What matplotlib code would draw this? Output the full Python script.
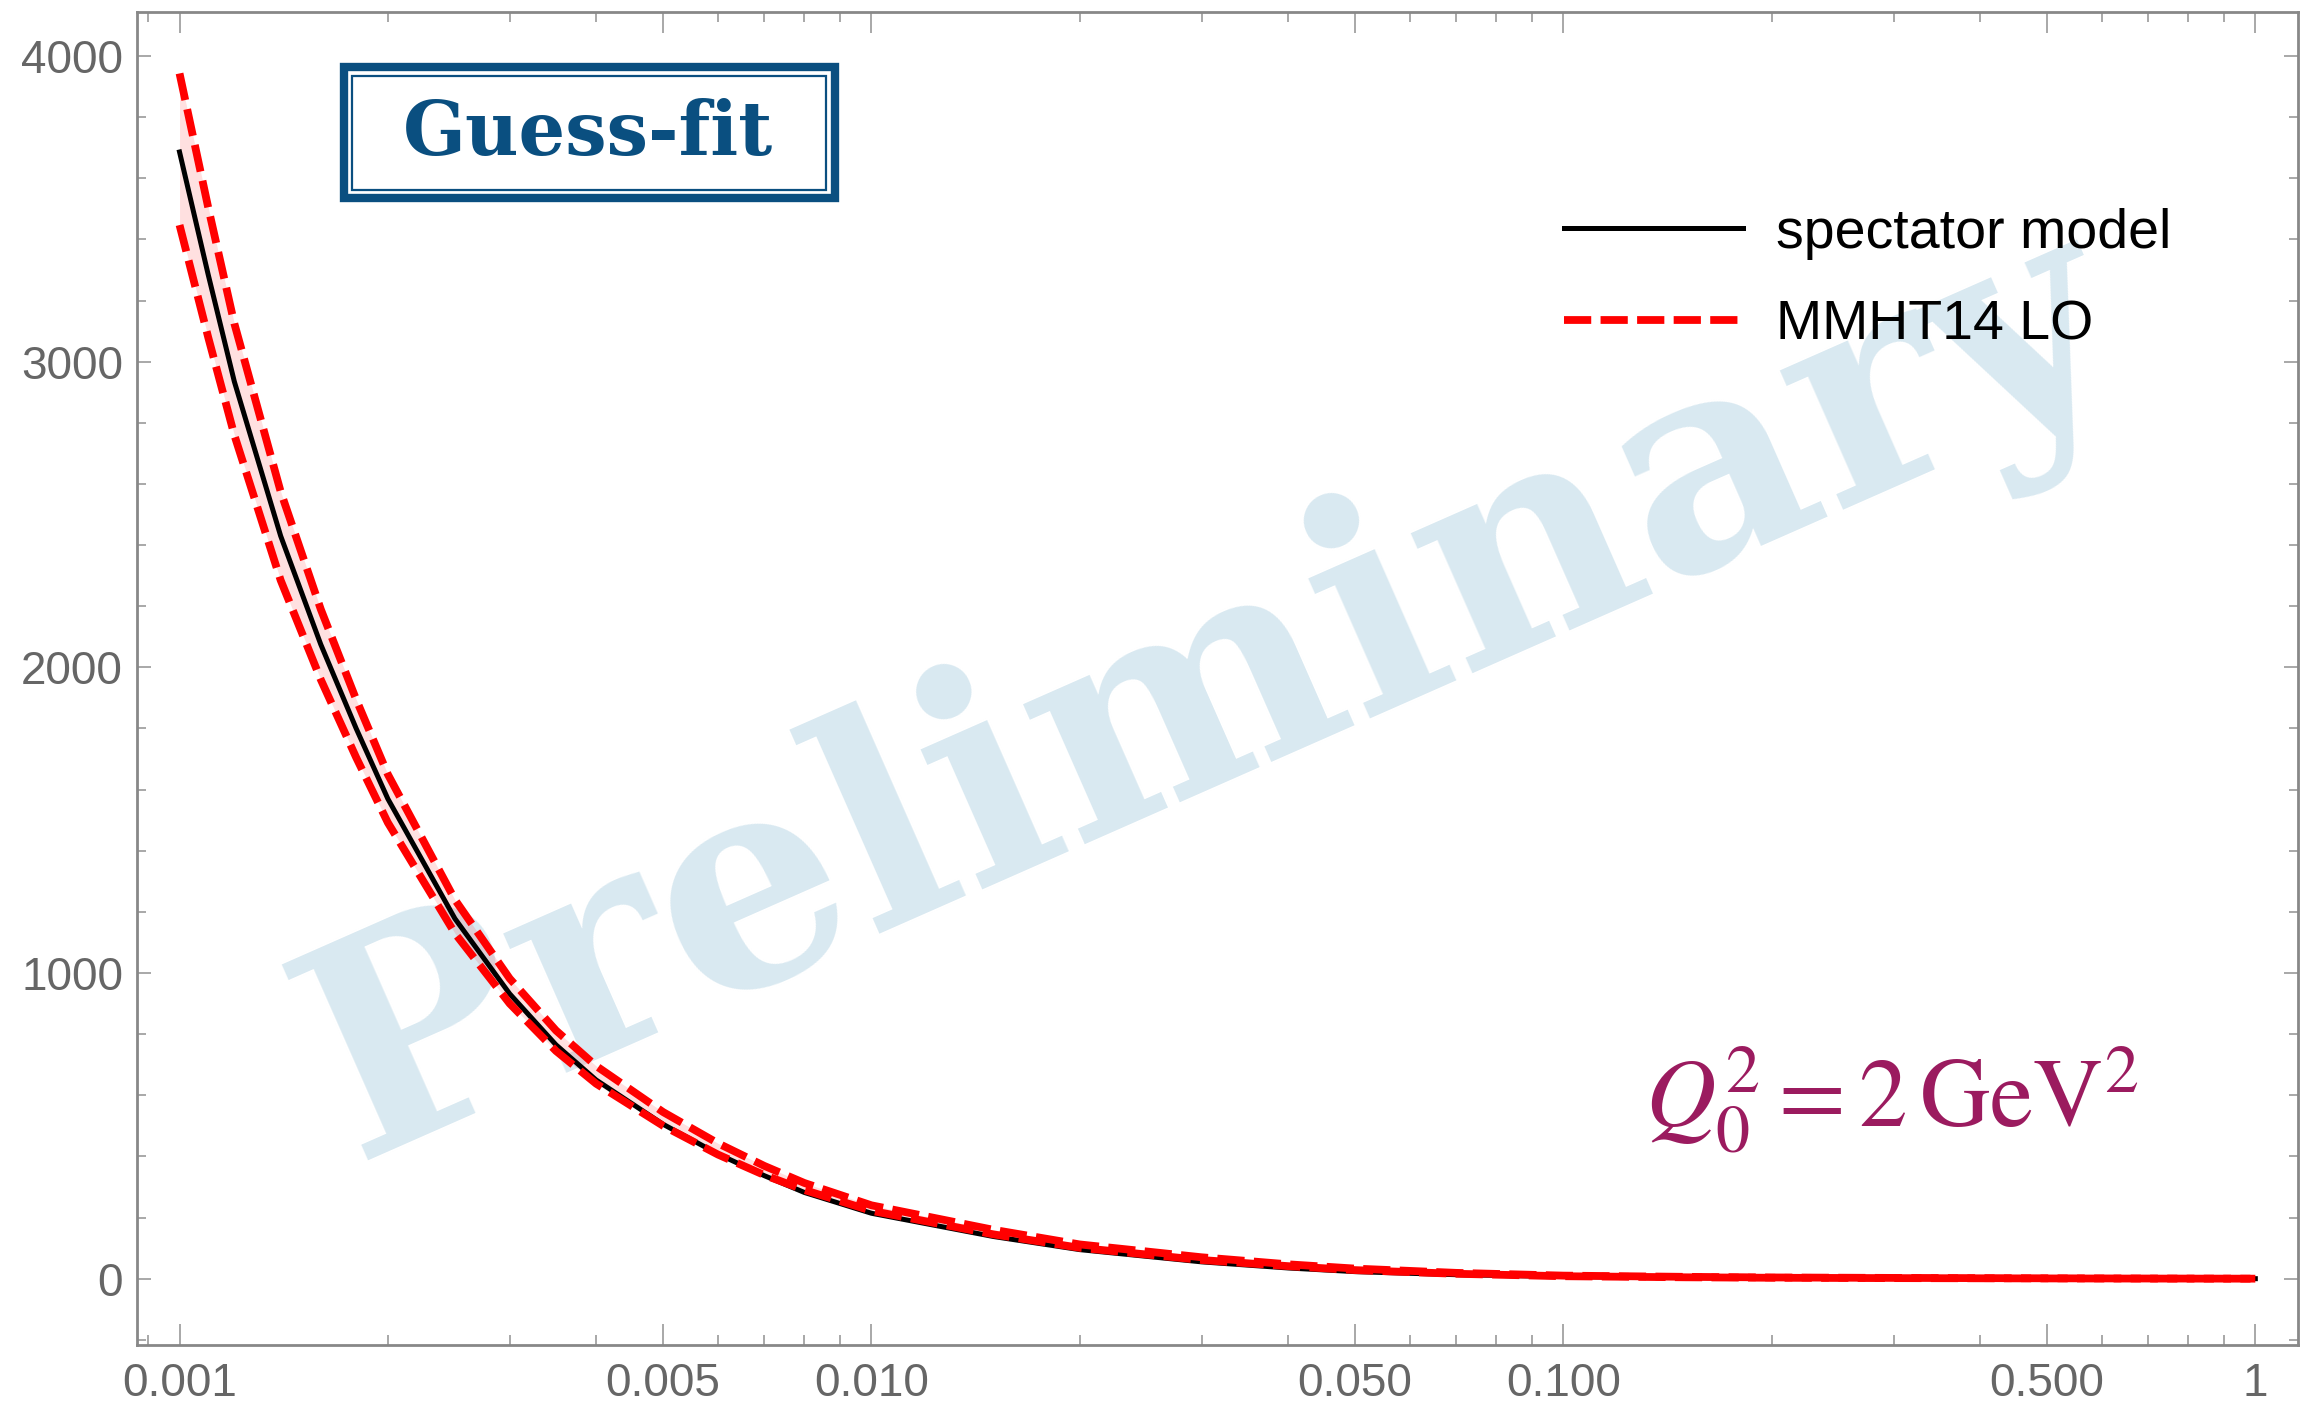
import matplotlib
matplotlib.use("Agg")
import matplotlib.pyplot as plt
from matplotlib.patches import Rectangle
from matplotlib.ticker import FixedLocator, FixedFormatter, NullFormatter

plt.rcParams['font.family'] = ['Liberation Sans', 'DejaVu Sans']

# ---- data ----
x = [0.001, 0.0011, 0.0012, 0.0014, 0.0016, 0.0018, 0.002, 0.0025, 0.003,
     0.0035, 0.004, 0.005, 0.006, 0.007, 0.008, 0.01, 0.015, 0.02, 0.03,
     0.04, 0.05, 0.07, 0.1, 0.15, 0.2, 0.3, 0.5, 0.7, 1.0]
spectator = [3686, 3285, 2935, 2430, 2075, 1800, 1570, 1178, 932,
             765, 650, 505, 408, 337, 282, 214, 138, 95, 55,
             35, 23, 13, 7, 3.5, 2.2, 1.1, 0.4, 0.15, 0]
mmht_upper = [3943, 3505, 3125, 2575, 2190, 1895, 1650, 1240, 982,
              812, 696, 545, 443, 369, 313, 240, 160, 112, 70,
              47, 33, 19, 10, 6, 4, 2.5, 1.2, 0.5, 0]
mmht_lower = [3447, 3080, 2760, 2285, 1960, 1705, 1492, 1130, 900,
              745, 638, 500, 406, 339, 290, 222, 145, 101, 61,
              41, 28, 16, 8, 4.5, 3, 1.8, 0.8, 0.3, 0]

xticks = [0.001, 0.005, 0.01, 0.05, 0.1, 0.5, 1]
xticklabels = ['0.001', '0.005', '0.010', '0.050', '0.100', '0.500', '1']
xminor = [0.0009, 0.002, 0.003, 0.004, 0.006, 0.007, 0.008, 0.009,
          0.02, 0.03, 0.04, 0.06, 0.07, 0.08, 0.09,
          0.2, 0.3, 0.4, 0.6, 0.7, 0.8, 0.9]
yticks = [0, 1000, 2000, 3000, 4000]
yticklabels = ['0', '1000', '2000', '3000', '4000']
yminor = [-200, 200, 400, 600, 800, 1200, 1400, 1600, 1800, 2200, 2400, 2600,
          2800, 3200, 3400, 3600, 3800]

W, H = 2307, 1408
fig = plt.figure(figsize=(W / 200, H / 200), dpi=200)
ax = fig.add_axes([137 / W, 1 - 1345 / H, (2298 - 137) / W, (1345 - 12) / H])
ax.set_xscale('log')
ax.set_xlim(0.000868, 1.1526)
ax.set_ylim(-217, 4144)

# watermark
ax.text(1211 / W, 1 - 696 / H, 'Preliminary', transform=fig.transFigure,
        rotation=23.8, rotation_mode='anchor', ha='center', va='center',
        fontsize=106, fontweight='bold', family='DejaVu Serif',
        color='#d9e9f1', zorder=0.5)

ax.fill_between(x, mmht_lower, mmht_upper, color='red', alpha=0.12, lw=0, zorder=1)
ax.plot(x, spectator, color='black', lw=1.8, zorder=3, label='spectator model')
ax.plot(x, mmht_upper, color='red', lw=2.8, dashes=(3.5, 1.2), zorder=4,
        label='MMHT14 LO')
ax.plot(x, mmht_lower, color='red', lw=2.8, dashes=(3.5, 1.2), zorder=4)

# ticks
ax.xaxis.set_major_locator(FixedLocator(xticks))
ax.xaxis.set_major_formatter(FixedFormatter(xticklabels))
ax.xaxis.set_minor_locator(FixedLocator(xminor))
ax.xaxis.set_minor_formatter(NullFormatter())
ax.yaxis.set_major_locator(FixedLocator(yticks))
ax.yaxis.set_major_formatter(FixedFormatter(yticklabels))
ax.yaxis.set_minor_locator(FixedLocator(yminor))
ax.yaxis.set_minor_formatter(NullFormatter())

tick_color = '#9a9a9a'
ax.tick_params(axis='x', which='major', direction='in', length=7.6, width=0.6,
               color=tick_color, top=True, bottom=True, pad=6,
               labelsize=16.5, labelcolor='#666666')
ax.tick_params(axis='x', which='minor', direction='in', length=3.6, width=0.6,
               color=tick_color, top=True, bottom=True)
ax.tick_params(axis='y', which='major', direction='in', length=5, width=0.6,
               color=tick_color, left=True, right=True, pad=5,
               labelsize=16.5, labelcolor='#666666')
ax.tick_params(axis='y', which='minor', direction='in', length=3.2, width=0.6,
               color=tick_color, left=True, right=True)
for s in ax.spines.values():
    s.set_color('#888888')
    s.set_linewidth(1.0)

# legend
ax.legend(loc='center left', bbox_to_anchor=(1564 / W, 1 - 279.5 / H),
          bbox_transform=fig.transFigure, frameon=False,
          prop={'family': 'Liberation Sans', 'size': 20},
          handlelength=3.22, handletextpad=0.6, labelspacing=0.71,
          borderpad=0, borderaxespad=0)

# Q0 label
ax.text(1892 / W, 1 - 1100 / H, r'$Q_0^2 = 2\,\mathrm{GeV}^2$',
        transform=fig.transFigure, ha='center', va='center', fontsize=35,
        color='#9b1b5f', math_fontfamily='stix', zorder=5)

# Guess-fit stamp
blue = '#0a4f80'
fig.add_artist(Rectangle((344 / W, 1 - 198 / H), (835 - 344) / W, (198 - 67) / H,
                         transform=fig.transFigure, fill=False, ec=blue, lw=3.0))
fig.add_artist(Rectangle((352 / W, 1 - 190 / H), (826 - 352) / W, (190 - 76) / H,
                         transform=fig.transFigure, fill=False, ec=blue, lw=0.8))
fig.text(588 / W, 1 - 134 / H, 'Guess-fit', ha='center', va='center',
         fontsize=26.5, fontweight='bold', family='DejaVu Serif', color=blue)

fig.savefig('out.png', dpi=200)
